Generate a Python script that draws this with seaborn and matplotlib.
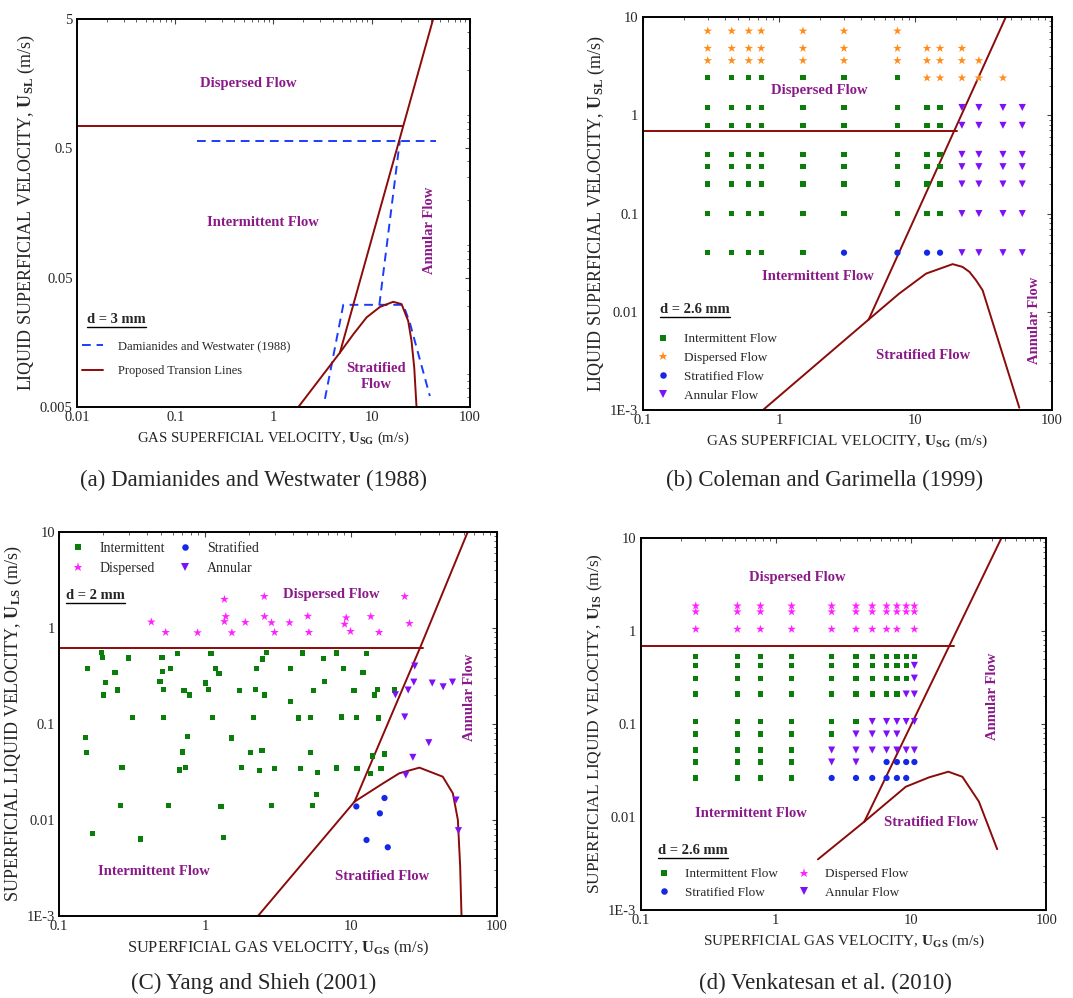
import matplotlib
matplotlib.use('Agg')
import matplotlib.pyplot as plt
from matplotlib.lines import Line2D
from matplotlib.ticker import NullFormatter
import pandas as pd
import seaborn as sns

sns.set_style('white')
plt.rcParams['font.family'] = ['Liberation Serif', 'DejaVu Serif']
plt.rcParams['mathtext.fontset'] = 'custom'
plt.rcParams['mathtext.rm'] = 'Liberation Serif'
plt.rcParams['mathtext.bf'] = 'Liberation Serif:bold'
plt.rcParams['mathtext.it'] = 'Liberation Serif:italic'

# colours
LINE = '#8b0a0a'
REGION = '#8b1a89'
C_INT = '#0a7d0a'
C_DISP_B = '#ff8c1a'
C_DISP = '#ff22ff'
C_STRAT = '#1428e6'
C_ANN = '#7f10f5'

# ---------------- panel (a) Damianides and Westwater ----------------
a_horiz_x = [0.01, 21.0]
a_horiz_y = [0.75, 0.75]
a_steep_x = [4.76, 42.4]
a_steep_y = [0.0132, 5.0]
a_low_x = [1.79, 4.76]
a_low_y = [0.005, 0.0132]
a_curve_x = [4.76, 6.52, 8.89, 12.2, 16.6, 20.2, 23.6, 25.5, 27.2, 28.7]
a_curve_y = [0.0132, 0.0183, 0.0247, 0.0298, 0.0326, 0.0313, 0.0232, 0.0163, 0.0101, 0.005]
a_dw_top_x = [0.166, 45.8]
a_dw_top_y = [0.573, 0.573]
a_dw_mid_x = [12.0, 19.4]
a_dw_mid_y = [0.0309, 0.573]
a_dw_low_x = [3.35, 5.15, 21.0, 24.5, 39.2]
a_dw_low_y = [0.0058, 0.0309, 0.0309, 0.0225, 0.0061]

# ---------------- panel (b) Coleman and Garimella ----------------
b_int = {2.4: [0.3, 0.45, 0.6, 0.74, 1.5, 3.0, 7.4],
         1.2: [0.3, 0.45, 0.6, 0.74, 1.5, 3.0, 7.4, 12.2, 15.2],
         0.79: [0.3, 0.45, 0.6, 0.74, 1.5, 3.0, 7.4, 12.2, 15.2],
         0.4: [0.3, 0.45, 0.6, 0.74, 1.5, 3.0, 7.4, 12.2, 15.2],
         0.3: [0.3, 0.45, 0.6, 0.74, 1.5, 3.0, 7.4, 12.2, 15.2],
         0.2: [0.3, 0.45, 0.6, 0.74, 1.5, 3.0, 7.4, 12.2, 15.2],
         0.1: [0.3, 0.45, 0.6, 0.74, 1.5, 3.0, 7.4, 12.2, 15.2],
         0.04: [0.3, 0.45, 0.6, 0.74, 1.5]}
b_disp = {7.2: [0.3, 0.45, 0.6, 0.74, 1.5, 3.0, 7.4],
          4.8: [0.3, 0.45, 0.6, 0.74, 1.5, 3.0, 7.4, 12.2, 15.2, 22],
          3.6: [0.3, 0.45, 0.6, 0.74, 1.5, 3.0, 7.4, 12.2, 15.2, 22, 29.3],
          2.4: [12.2, 15.2, 22, 29.3, 44]}
b_strat = {0.04: [3.0, 7.4, 12.2, 15.2]}
b_ann = {1.2: [22, 29.3, 44, 61], 0.79: [22, 29.3, 44, 61], 0.4: [22, 29.3, 44, 61],
         0.3: [22, 29.3, 44, 61], 0.2: [22, 29.3, 44, 61], 0.1: [22, 29.3, 44, 61],
         0.04: [22, 29.3, 44, 61]}
b_horiz_x = [0.1, 20.4]
b_horiz_y = [0.69, 0.69]
b_steep_x = [4.55, 46.2]
b_steep_y = [0.00836, 10.0]
b_low_x = [0.76, 4.55]
b_low_y = [0.001, 0.00836]
b_curve_x = [4.55, 7.6, 12.0, 18.8, 22.2, 25.0, 27.9, 31.2, 58.0]
b_curve_y = [0.00836, 0.0153, 0.0245, 0.0306, 0.0287, 0.0255, 0.021, 0.0166, 0.00106]

# ---------------- panel (c) Yang and Shieh ----------------
c_int_x = [0.195, 0.198, 0.157, 0.207, 0.202, 0.242, 0.251, 0.299, 0.32, 0.152, 0.155, 0.270,
           0.264, 0.169, 0.364, 0.508, 0.510, 0.492, 0.521, 0.521, 0.582, 0.650, 0.718, 0.785,
           0.757, 0.703, 0.733, 0.670, 0.561, 1.10, 1.18, 1.25, 1.01, 1.06, 1.12, 1.29, 1.34,
           1.52, 1.73, 1.79, 2.05, 2.15, 2.22, 2.26, 2.48, 2.64, 2.56, 2.46, 2.38, 3.00, 2.85,
           3.86, 3.86, 4.38, 4.52, 4.69, 5.30, 5.29, 5.52, 5.94, 5.79, 5.49, 6.46, 6.60, 8.01,
           8.63, 8.01, 8.91, 10.5, 10.9, 11.0, 12.1, 12.8, 14.0, 13.6, 14.5, 15.2, 15.5, 16.1,
           16.9, 19.9]
c_int_y = [0.550, 0.492, 0.375, 0.272, 0.200, 0.341, 0.225, 0.484, 0.117, 0.0723, 0.0505, 0.0353,
           0.0140, 0.00725, 0.00633, 0.492, 0.352, 0.275, 0.227, 0.116, 0.375, 0.537, 0.223, 0.200,
           0.0735, 0.0509, 0.0353, 0.0331, 0.0140, 0.542, 0.375, 0.333, 0.266, 0.227, 0.116, 0.0138,
           0.00659, 0.0713, 0.223, 0.0350, 0.0505, 0.116, 0.227, 0.378, 0.473, 0.550, 0.200, 0.0526,
           0.0326, 0.0344, 0.0142, 0.375, 0.171, 0.115, 0.0344, 0.546, 0.116, 0.0501, 0.223, 0.0311,
           0.0183, 0.0140, 0.477, 0.275, 0.546, 0.118, 0.0347, 0.378, 0.221, 0.117, 0.0344, 0.341,
           0.542, 0.0462, 0.0303, 0.200, 0.227, 0.115, 0.0344, 0.0485, 0.225]
c_strat_x = [10.9, 15.8, 17.0, 12.8, 17.9]
c_strat_y = [0.0138, 0.0117, 0.0169, 0.00618, 0.00519]
c_disp_x = [0.429, 0.538, 0.891, 1.36, 1.39, 1.36, 1.53, 1.89, 2.55, 2.56, 2.86, 3.00, 3.80,
            5.07, 5.16, 9.29, 9.06, 9.95, 13.7, 15.6, 23.4, 25.2]
c_disp_y = [1.15, 0.896, 0.889, 1.98, 1.31, 1.16, 0.889, 1.14, 2.12, 1.31, 1.13, 0.896, 1.13,
            1.32, 0.896, 1.27, 1.09, 0.918, 1.31, 0.896, 2.12, 1.11]
c_ann_x = [27.4, 27.0, 36.1, 42.9, 49.7, 20.2, 24.7, 23.4, 34.2, 26.6, 23.8, 52.6, 54.6]
c_ann_y = [0.400, 0.272, 0.266, 0.243, 0.272, 0.201, 0.225, 0.118, 0.0637, 0.0448, 0.0293, 0.0161, 0.00773]
c_horiz_x = [0.1, 31.1]
c_horiz_y = [0.62, 0.62]
c_steep_x = [10.6, 29.8, 63.3]
c_steep_y = [0.0155, 0.62, 10.0]
c_low_x = [2.31, 10.6]
c_low_y = [0.001, 0.0155]
c_curve_x = [10.6, 16.6, 21.5, 29.5, 42.6, 50.0, 54.1, 56.1, 57.3]
c_curve_y = [0.0155, 0.024, 0.0306, 0.035, 0.0282, 0.0189, 0.01, 0.00326, 0.001]

# ---------------- panel (d) Venkatesan et al. ----------------
d_cols = [0.256, 0.52, 0.77, 1.31, 2.59, 3.92, 5.17, 6.6, 7.87, 9.22, 10.6]
d_disp = {1.85: d_cols, 1.6: d_cols,
          1.04: [0.256, 0.52, 0.77, 1.31, 2.59, 3.92, 5.17, 6.6, 7.87, 10.6]}
d_int = {0.527: d_cols,
         0.425: d_cols[:10], 0.31: d_cols[:10], 0.209: d_cols[:9],
         0.106: d_cols[:6], 0.0778: d_cols[:5], 0.0523: d_cols[:4],
         0.0389: d_cols[:4], 0.0262: d_cols[:4]}
d_ann = {0.425: [10.6], 0.31: [10.6], 0.209: [9.22, 10.6],
         0.106: [5.17, 6.6, 7.87, 9.22, 10.6], 0.0778: [3.92, 5.17, 6.6, 7.87],
         0.0523: [2.59, 3.92, 5.17, 6.6, 7.87, 9.22, 10.6], 0.0389: [2.59, 3.92]}
d_strat = {0.0389: [6.6, 7.87, 9.22, 10.6],
           0.0262: [2.59, 3.92, 5.17, 6.6, 7.87, 9.22]}
d_horiz_x = [0.1, 20.8]
d_horiz_y = [0.69, 0.69]
d_steep_x = [4.52, 46.8, 100.0]
d_steep_y = [0.0089, 10.0, 10.0]
d_low_x = [2.05, 4.52]
d_low_y = [0.0035, 0.0089]
d_curve_x = [4.52, 9.16, 13.6, 18.9, 24.0, 31.8, 43.4]
d_curve_y = [0.0089, 0.0211, 0.0266, 0.0306, 0.027, 0.0146, 0.0045]


def rows_to_df(rows):
    xs, ys = [], []
    for yv, xl in rows.items():
        xs += list(xl)
        ys += [yv] * len(xl)
    return pd.DataFrame({'x': xs, 'y': ys})


MK = {'int': ('s', 14), 'disp': ('*', 42), 'strat': ('o', 20), 'ann': ('v', 26)}


def scatter(ax, df, kind, color):
    m, s = MK[kind]
    sns.scatterplot(data=df, x='x', y='y', ax=ax, marker=m, s=s, color=color,
                    edgecolor='none', linewidth=0, legend=False, zorder=3)


def handle(kind, color):
    m, s = MK[kind]
    return Line2D([], [], marker=m, ls='none', color=color, markeredgewidth=0,
                  markersize=s ** 0.5 * 1.05)


def style_axes(ax, xlim, ylim, xt, xtl, yt, ytl, xlabel, ylabel, xfs, yfs):
    ax.set_xscale('log')
    ax.set_yscale('log')
    ax.set_xlim(*xlim)
    ax.set_ylim(*ylim)
    ax.set_xticks(xt)
    ax.set_xticklabels(xtl)
    ax.set_yticks(yt)
    ax.set_yticklabels(ytl)
    ax.xaxis.set_minor_formatter(NullFormatter())
    ax.yaxis.set_minor_formatter(NullFormatter())
    ax.tick_params(which='both', direction='in', top=True, right=True, labelsize=10.5,
                   color='#444444', pad=3)
    ax.tick_params(which='major', length=3.5, width=0.8)
    ax.tick_params(which='minor', length=2, width=0.6)
    for sp in ax.spines.values():
        sp.set_linewidth(1.4)
        sp.set_color('black')
    ax.set_xlabel(xlabel, fontsize=xfs, labelpad=4)
    ax.set_ylabel(ylabel, fontsize=yfs, labelpad=2)
    ax.grid(False)


def region(ax, x, y, txt, rot=0):
    ax.text(x, y, txt, transform=ax.transAxes, ha='center', va='center', rotation=rot,
            color=REGION, fontsize=10.5, fontweight='bold', multialignment='center',
            linespacing=1.3)


def lines(ax, *pairs):
    for xs, ys in pairs:
        ax.plot(xs, ys, color=LINE, lw=1.4, zorder=2)


fig = plt.figure(figsize=(10.73, 9.98), dpi=100)
axa = fig.add_axes([0.0718, 0.592, 0.366, 0.389])
axb = fig.add_axes([0.599, 0.589, 0.381, 0.394])
axc = fig.add_axes([0.055, 0.0822, 0.408, 0.385])
axd = fig.add_axes([0.597, 0.0882, 0.378, 0.373])

dlabels = []

# ---- (a)
DASH = (0, (4.5, 3))
axa.plot(a_dw_top_x, a_dw_top_y, color='#1a3cff', lw=1.4, ls=DASH, zorder=2)
axa.plot(a_dw_mid_x, a_dw_mid_y, color='#1a3cff', lw=1.4, ls=DASH, zorder=2)
axa.plot(a_dw_low_x, a_dw_low_y, color='#1a3cff', lw=1.4, ls=DASH, zorder=2)
lines(axa, (a_horiz_x, a_horiz_y), (a_steep_x, a_steep_y), (a_low_x, a_low_y),
      (a_curve_x, a_curve_y))
style_axes(axa, (0.01, 100), (0.005, 5), [0.01, 0.1, 1, 10, 100], ['0.01', '0.1', '1', '10', '100'],
           [0.005, 0.05, 0.5, 5], ['0.005', '0.05', '0.5', '5'],
           r'GAS SUPERFICIAL VELOCITY, $\mathbf{U_{SG}}$ (m/s)',
           r'LIQUID SUPERFICIAL VELOCITY, $\mathbf{U_{SL}}$ (m/s)', 10.6, 13)
region(axa, 0.435, 0.835, 'Dispersed Flow')
region(axa, 0.473, 0.477, 'Intermittent Flow')
region(axa, 0.898, 0.456, 'Annular Flow', rot=90)
region(axa, 0.761, 0.080, 'Stratified\nFlow')
dlabels.append(axa.text(0.025, 0.227, 'd = 3 mm', transform=axa.transAxes, ha='left',
                        va='center', fontsize=10.5, fontweight='bold'))
ha = [Line2D([], [], color='#1a3cff', lw=1.4, ls=DASH), Line2D([], [], color=LINE, lw=1.4)]
axa.legend(ha, ['Damianides and Westwater (1988)', 'Proposed Transion Lines'], loc='lower left',
           bbox_to_anchor=(0.0, 0.065), frameon=False, fontsize=9, handlelength=1.7,
           handletextpad=1.2, labelspacing=1.0, borderaxespad=0)

# ---- (b)
lines(axb, (b_horiz_x, b_horiz_y), (b_steep_x, b_steep_y), (b_low_x, b_low_y),
      (b_curve_x, b_curve_y))
scatter(axb, rows_to_df(b_int), 'int', C_INT)
scatter(axb, rows_to_df(b_disp), 'disp', C_DISP_B)
scatter(axb, rows_to_df(b_strat), 'strat', C_STRAT)
scatter(axb, rows_to_df(b_ann), 'ann', C_ANN)
style_axes(axb, (0.1, 100), (0.001, 10), [0.1, 1, 10, 100], ['0.1', '1', '10', '100'],
           [0.001, 0.01, 0.1, 1, 10], ['1E-3', '0.01', '0.1', '1', '10'],
           r'GAS SUPERFICIAL VELOCITY, $\mathbf{U_{SG}}$ (m/s)',
           r'LIQUID SUPERFICIAL VELOCITY, $\mathbf{U_{SL}}$ (m/s)', 11, 13)
region(axb, 0.433, 0.812, 'Dispersed Flow')
region(axb, 0.428, 0.341, 'Intermittent Flow')
region(axb, 0.687, 0.140, 'Stratified Flow')
region(axb, 0.958, 0.229, 'Annular Flow', rot=90)
dlabels.append(axb.text(0.042, 0.257, 'd = 2.6 mm', transform=axb.transAxes, ha='left',
                        va='center', fontsize=10.5, fontweight='bold'))
hb = [handle('int', C_INT), handle('disp', C_DISP_B), handle('strat', C_STRAT), handle('ann', C_ANN)]
axb.legend(hb, ['Intermittent Flow', 'Dispersed Flow', 'Stratified Flow', 'Annular Flow'],
           loc='lower left', bbox_to_anchor=(0.02, 0.008), frameon=False, fontsize=9.5,
           handlelength=1.0, handletextpad=1.1, labelspacing=0.5, borderaxespad=0)

# ---- (c)
lines(axc, (c_horiz_x, c_horiz_y), (c_steep_x, c_steep_y), (c_low_x, c_low_y),
      (c_curve_x, c_curve_y))
scatter(axc, pd.DataFrame({'x': c_int_x, 'y': c_int_y}), 'int', C_INT)
scatter(axc, pd.DataFrame({'x': c_strat_x, 'y': c_strat_y}), 'strat', C_STRAT)
scatter(axc, pd.DataFrame({'x': c_disp_x, 'y': c_disp_y}), 'disp', C_DISP)
scatter(axc, pd.DataFrame({'x': c_ann_x, 'y': c_ann_y}), 'ann', C_ANN)
style_axes(axc, (0.1, 100), (0.001, 10), [0.1, 1, 10, 100], ['0.1', '1', '10', '100'],
           [0.001, 0.01, 0.1, 1, 10], ['1E-3', '0.01', '0.1', '1', '10'],
           r'SUPERFICIAL GAS VELOCITY, $\mathbf{U_{GS}}$ (m/s)',
           r'SUPERFICIAL LIQUID VELOCITY, $\mathbf{U_{LS}}$ (m/s)', 11.8, 13)
region(axc, 0.623, 0.836, 'Dispersed Flow')
region(axc, 0.938, 0.570, 'Annular Flow', rot=90)
region(axc, 0.217, 0.117, 'Intermittent Flow')
region(axc, 0.737, 0.104, 'Stratified Flow')
dlabels.append(axc.text(0.016, 0.833, 'd = 2 mm', transform=axc.transAxes, ha='left',
                        va='center', fontsize=10.5, fontweight='bold'))
hc = [handle('int', C_INT), handle('disp', C_DISP), handle('strat', C_STRAT), handle('ann', C_ANN)]
axc.legend(hc, ['Intermittent', 'Dispersed', 'Stratified', 'Annular'], ncol=2,
           loc='upper left', bbox_to_anchor=(0.014, 0.988), frameon=False, fontsize=10,
           handlelength=1.0, handletextpad=1.1, labelspacing=0.5, columnspacing=0.9,
           borderaxespad=0)

# ---- (d)
lines(axd, (d_horiz_x, d_horiz_y), (d_steep_x, d_steep_y), (d_low_x, d_low_y),
      (d_curve_x, d_curve_y))
scatter(axd, rows_to_df(d_int), 'int', C_INT)
scatter(axd, rows_to_df(d_disp), 'disp', C_DISP)
scatter(axd, rows_to_df(d_strat), 'strat', C_STRAT)
scatter(axd, rows_to_df(d_ann), 'ann', C_ANN)
style_axes(axd, (0.1, 100), (0.001, 10), [0.1, 1, 10, 100], ['0.1', '1', '10', '100'],
           [0.001, 0.01, 0.1, 1, 10], ['1E-3', '0.01', '0.1', '1', '10'],
           r'SUPERFICIAL GAS VELOCITY, $\mathbf{U_{GS}}$ (m/s)',
           r'SUPERFICIAL LIQUID VELOCITY, $\mathbf{U_{IS}}$ (m/s)', 11, 12.5)
region(axd, 0.387, 0.892, 'Dispersed Flow')
region(axd, 0.867, 0.573, 'Annular Flow', rot=90)
region(axd, 0.271, 0.258, 'Intermittent Flow')
region(axd, 0.717, 0.234, 'Stratified Flow')
dlabels.append(axd.text(0.044, 0.161, 'd = 2.6 mm', transform=axd.transAxes, ha='left',
                        va='center', fontsize=10.5, fontweight='bold'))
hd = [handle('int', C_INT), handle('strat', C_STRAT), handle('disp', C_DISP), handle('ann', C_ANN)]
axd.legend(hd, ['Intermittent Flow', 'Stratified Flow', 'Dispersed Flow', 'Annular Flow'], ncol=2,
           loc='lower left', bbox_to_anchor=(0.028, 0.015), frameon=False, fontsize=9.5,
           handlelength=1.0, handletextpad=1.1, labelspacing=0.5, columnspacing=1.5,
           borderaxespad=0)

# captions
fig.text(0.236, 0.519, '(a) Damianides and Westwater (1988)', ha='center', va='center', fontsize=16.5)
fig.text(0.768, 0.519, '(b) Coleman and Garimella (1999)', ha='center', va='center', fontsize=16.5)
fig.text(0.236, 0.015, '(C) Yang and Shieh (2001)', ha='center', va='center', fontsize=16.5)
fig.text(0.769, 0.015, '(d) Venkatesan et al. (2010)', ha='center', va='center', fontsize=16.5)

# underline the "d = ..." labels
fig.canvas.draw()
inv = fig.transFigure.inverted()
for t in dlabels:
    bb = t.get_window_extent()
    (x0, y0), (x1, _) = inv.transform([(bb.x0, bb.y0 - 1), (bb.x1, bb.y0)])
    fig.add_artist(Line2D([x0, x1], [y0, y0], color='black', lw=1.0, transform=fig.transFigure))

fig.savefig('out.png', dpi=100)
